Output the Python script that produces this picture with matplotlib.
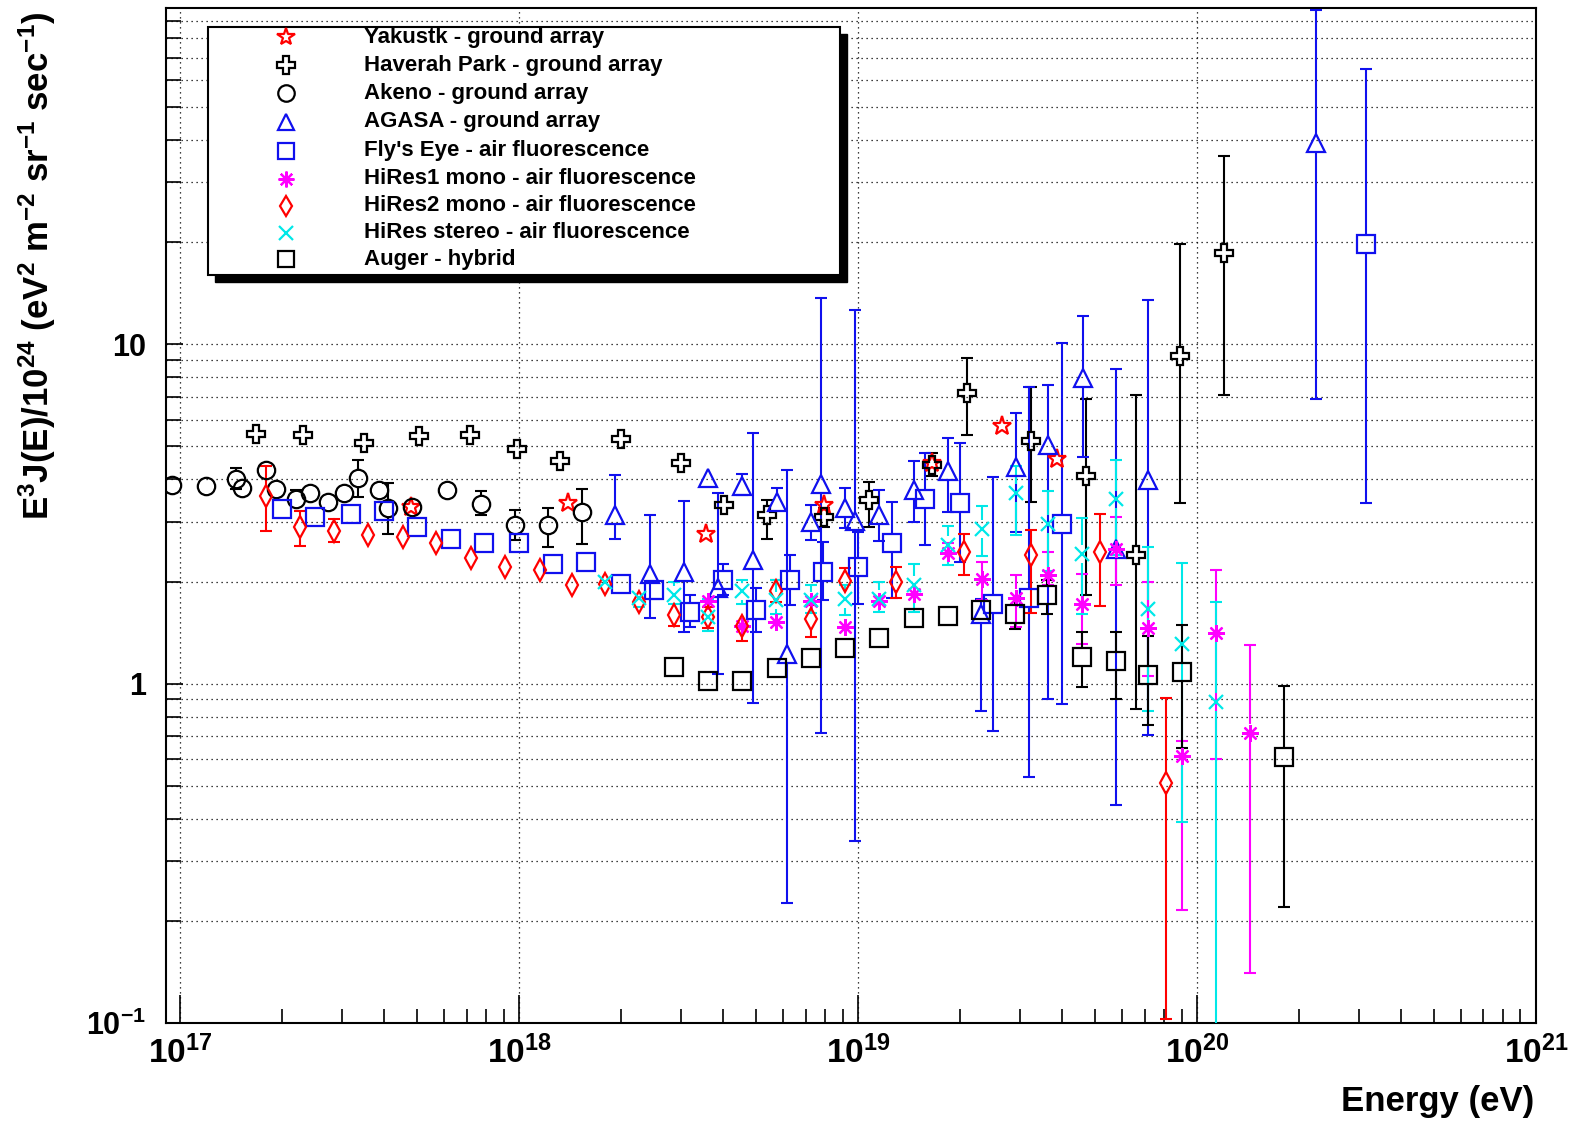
import numpy as np
import matplotlib
matplotlib.use("Agg")
import matplotlib.pyplot as plt
from matplotlib.ticker import FixedLocator, FixedFormatter, NullFormatter
from matplotlib.patches import Rectangle
from matplotlib.lines import Line2D

plt.rcParams['font.family'] = ['Liberation Sans', 'DejaVu Sans']
plt.rcParams['font.weight'] = 'bold'
plt.rcParams['mathtext.fontset'] = 'custom'
plt.rcParams['mathtext.rm'] = 'Liberation Sans:bold'
plt.rcParams['mathtext.it'] = 'Liberation Sans:bold'
plt.rcParams['mathtext.bf'] = 'Liberation Sans:bold'
plt.rcParams['mathtext.default'] = 'rm'

# ---------------- data (E in eV, flux E^3 J(E)/1e24, lower / upper error bounds) ----------------
yak_E  = [4.80e17, 1.39e18, 3.56e18, 7.96e18, 1.65e19, 2.66e19, 3.85e19]
yak_v  = [3.32, 3.40, 2.77, 3.36, 4.47, 5.73, 4.60]
yak_lo = [3.25, 3.32, 2.70, 3.28, 4.35, 5.55, 4.45]
yak_hi = [3.40, 3.48, 2.84, 3.45, 4.60, 5.90, 4.75]

hp_E  = [1.67e17, 2.30e17, 3.48e17, 5.07e17, 7.18e17, 9.86e17, 1.32e18, 2.00e18, 3.01e18, 4.03e18,
         5.37e18, 7.96e18, 1.08e19, 1.65e19, 2.09e19, 3.23e19, 4.70e19, 6.61e19, 8.93e19, 1.20e20]
hp_v  = [5.43, 5.42, 5.12, 5.38, 5.42, 4.91, 4.54, 5.26, 4.46, 3.36,
         3.14, 3.10, 3.48, 4.42, 7.20, 5.18, 4.08, 2.39, 9.27, 18.6]
hp_lo = [5.30, 5.30, 5.00, 5.25, 5.28, 4.75, 4.40, 5.10, 4.30, 3.20,
         2.67, 2.90, 2.90, 4.10, 5.39, 3.44, 1.83, 0.84, 3.41, 7.10]
hp_hi = [5.56, 5.55, 5.25, 5.50, 5.56, 5.10, 4.70, 5.40, 4.60, 3.55,
         3.48, 3.30, 3.94, 4.78, 9.11, 7.49, 6.90, 7.10, 19.7, 35.9]

ak_E  = [9.44e16, 1.19e17, 1.46e17, 1.52e17, 1.79e17, 1.92e17, 2.20e17, 2.42e17, 2.73e17, 3.04e17,
         3.34e17, 3.86e17, 4.10e17, 4.82e17, 6.14e17, 7.71e17, 9.70e17, 1.22e18, 1.53e18]
ak_v  = [3.85, 3.82, 4.01, 3.78, 4.25, 3.74, 3.49, 3.65, 3.43, 3.65,
         4.05, 3.72, 3.30, 3.31, 3.72, 3.39, 2.94, 2.94, 3.21]
ak_lo = [3.72, 3.70, 3.75, 3.65, 4.02, 3.62, 3.30, 3.52, 3.30, 3.52,
         3.56, 3.58, 2.77, 3.20, 3.60, 3.14, 2.65, 2.52, 2.58]
ak_hi = [3.98, 3.95, 4.33, 3.90, 4.49, 3.86, 3.73, 3.78, 3.56, 3.78,
         4.56, 3.86, 3.90, 3.42, 3.85, 3.70, 3.25, 3.30, 3.74]

ag_E  = [1.92e18, 2.43e18, 3.06e18, 3.61e18, 3.87e18, 4.56e18, 4.89e18, 5.77e18, 6.17e18, 7.24e18,
         7.78e18, 9.14e18, 9.82e18, 1.15e19, 1.46e19, 1.84e19, 2.30e19, 2.93e19, 3.63e19, 4.61e19,
         5.78e19, 7.18e19, 2.25e20]
ag_v  = [3.14, 2.11, 2.13, 4.03, 1.92, 3.83, 2.31, 3.44, 1.22, 3.00,
         3.87, 3.30, 3.01, 3.14, 3.72, 4.22, 1.60, 4.36, 5.04, 7.97,
         2.50, 3.99, 39.3]
ag_lo = [2.67, 1.56, 1.42, 3.85, 1.07, 3.60, 0.878, 3.25, 0.226, 2.65,
         0.716, 2.87, 0.343, 2.63, 3.00, 3.21, 0.83, 2.80, 0.90, 4.67,
         0.44, 0.706, 6.9]
ag_hi = [4.12, 3.15, 3.46, 4.20, 3.64, 4.14, 5.49, 3.76, 4.25, 3.37,
         13.7, 3.78, 12.6, 3.73, 4.54, 5.29, 1.78, 6.28, 7.59, 12.1,
         8.47, 13.5, 97.0]

fe_E  = [2.0e17, 2.5e17, 3.2e17, 4.0e17, 5.0e17, 6.3e17, 7.9e17, 1.0e18, 1.26e18, 1.58e18,
         2.0e18, 2.5e18, 3.2e18, 4.0e18, 5.0e18, 6.3e18, 7.9e18, 1.0e19, 1.26e19, 1.58e19,
         2.0e19, 2.5e19, 3.2e19, 4.0e19, 3.15e20]
fe_v  = [3.27, 3.09, 3.17, 3.23, 2.89, 2.67, 2.59, 2.59, 2.26, 2.29,
         1.97, 1.89, 1.63, 2.02, 1.65, 2.02, 2.13, 2.21, 2.59, 3.49,
         3.40, 1.72, 1.79, 2.96, 19.7]
fe_lo = [3.17, 3.00, 3.08, 3.13, 2.80, 2.60, 2.52, 2.52, 2.20, 2.22,
         1.90, 1.78, 1.47, 1.82, 1.42, 1.70, 1.76, 1.72, 1.79, 2.56,
         2.28, 0.726, 0.53, 0.87, 3.41]
fe_hi = [3.37, 3.18, 3.26, 3.33, 2.98, 2.75, 2.66, 2.66, 2.33, 2.36,
         2.05, 2.00, 1.82, 2.25, 1.91, 2.39, 2.62, 2.80, 3.43, 4.78,
         5.11, 4.06, 7.50, 10.1, 65.0]

h1_E  = [3.61e18, 4.56e18, 5.73e18, 7.28e18, 9.14e18, 1.15e19, 1.46e19, 1.84e19, 2.32e19, 2.92e19,
         3.63e19, 4.59e19, 5.78e19, 7.18e19, 9.04e19, 1.14e20, 1.43e20]
h1_v  = [1.75, 1.48, 1.52, 1.75, 1.47, 1.75, 1.84, 2.43, 2.03, 1.79,
         2.09, 1.72, 2.49, 1.46, 0.613, 1.41, 0.716]
h1_lo = [1.68, 1.42, 1.45, 1.68, 1.40, 1.66, 1.74, 2.30, 1.77, 1.47,
         1.95, 1.31, 1.95, 1.05, 0.215, 0.60, 0.14]
h1_hi = [1.82, 1.55, 1.60, 1.82, 1.54, 1.84, 1.95, 2.60, 2.28, 2.09,
         2.45, 2.11, 3.10, 2.00, 0.68, 2.16, 1.30]

h2_E  = [1.79e17, 2.25e17, 2.84e17, 3.59e17, 4.54e17, 5.70e17, 7.19e17, 9.08e17, 1.15e18, 1.43e18,
         1.79e18, 2.26e18, 2.86e18, 3.61e18, 4.56e18, 5.73e18, 7.28e18, 9.14e18, 1.29e19, 2.05e19,
         3.23e19, 5.18e19, 8.11e19]
h2_v  = [3.57, 2.89, 2.81, 2.74, 2.71, 2.59, 2.34, 2.20, 2.17, 1.95,
         1.97, 1.74, 1.59, 1.57, 1.48, 1.88, 1.55, 2.01, 2.00, 2.44,
         2.39, 2.44, 0.511]
h2_lo = [2.81, 2.55, 2.62, 2.66, 2.63, 2.52, 2.28, 2.14, 2.11, 1.90,
         1.92, 1.66, 1.48, 1.46, 1.34, 1.74, 1.37, 1.90, 1.79, 2.09,
         1.62, 1.69, 0.103]
h2_hi = [4.37, 3.23, 3.06, 2.82, 2.79, 2.66, 2.40, 2.26, 2.23, 2.00,
         2.02, 1.82, 1.66, 1.68, 1.57, 2.02, 1.70, 2.19, 2.21, 2.77,
         2.84, 3.17, 0.909]

hs_E  = [1.79e18, 2.26e18, 2.86e18, 3.61e18, 4.56e18, 5.73e18, 7.28e18, 9.14e18, 1.15e19, 1.46e19,
         1.84e19, 2.32e19, 2.92e19, 3.63e19, 4.59e19, 5.78e19, 7.18e19, 9.04e19, 1.14e20]
hs_v  = [1.99, 1.79, 1.83, 1.57, 1.87, 1.76, 1.76, 1.78, 1.78, 1.95,
         2.56, 2.86, 3.64, 2.96, 2.41, 3.49, 1.66, 1.31, 0.882]
hs_lo = [1.92, 1.68, 1.72, 1.43, 1.72, 1.60, 1.62, 1.59, 1.63, 1.63,
         2.23, 2.38, 2.75, 2.15, 1.60, 2.40, 0.832, 0.391, 0.05]
hs_hi = [2.06, 1.89, 1.99, 1.78, 2.02, 2.02, 1.96, 1.95, 2.00, 2.25,
         2.92, 3.35, 4.39, 3.70, 3.08, 4.55, 2.53, 2.27, 1.74]

au_E  = [2.86e18, 3.61e18, 4.56e18, 5.75e18, 7.24e18, 9.14e18, 1.15e19, 1.46e19, 1.84e19, 2.30e19,
         2.91e19, 3.61e19, 4.57e19, 5.75e19, 7.18e19, 9.04e19, 1.80e20]
au_v  = [1.12, 1.02, 1.02, 1.11, 1.19, 1.27, 1.36, 1.56, 1.58, 1.65,
         1.60, 1.82, 1.20, 1.17, 1.06, 1.08, 0.61]
au_lo = [1.09, 0.99, 0.99, 1.08, 1.16, 1.23, 1.32, 1.52, 1.54, 1.60,
         1.45, 1.60, 0.98, 0.90, 0.756, 0.646, 0.22]
au_hi = [1.15, 1.05, 1.05, 1.14, 1.22, 1.31, 1.40, 1.60, 1.62, 1.70,
         1.78, 2.02, 1.42, 1.42, 1.38, 1.49, 0.986]

labels = ["Yakustk - ground array", "Haverah Park - ground array", "Akeno - ground array",
          "AGASA - ground array", "Fly's Eye - air fluorescence", "HiRes1 mono - air fluorescence",
          "HiRes2 mono - air fluorescence", "HiRes stereo - air fluorescence", "Auger - hybrid"]

x_major = [1e17, 1e18, 1e19, 1e20, 1e21]
x_major_labels = [r'$10^{17}$', r'$10^{18}$', r'$10^{19}$', r'$10^{20}$', r'$10^{21}$']
y_major = [0.1, 1, 10]
y_major_labels = [r'$10^{-1}$', '1', '10']

# ---------------- styling ----------------
BLUE = '#1010ee'
ASTER = (8, 2, 0)
styles = [
    dict(color='red', marker='*', ms=14),
    dict(color='black', marker='P', ms=13),
    dict(color='black', marker='o', ms=12.5),
    dict(color=BLUE, marker='^', ms=12.5),
    dict(color=BLUE, marker='s', ms=12.5),
    dict(color='#ff00ff', marker=ASTER, ms=12),
    dict(color='red', marker='d', ms=11),
    dict(color='#00e8e8', marker='x', ms=10),
    dict(color='black', marker='s', ms=12.5),
]
datasets = [
    (yak_E, yak_v, yak_lo, yak_hi),
    (hp_E, hp_v, hp_lo, hp_hi),
    (ak_E, ak_v, ak_lo, ak_hi),
    (ag_E, ag_v, ag_lo, ag_hi),
    (fe_E, fe_v, fe_lo, fe_hi),
    (h1_E, h1_v, h1_lo, h1_hi),
    (h2_E, h2_v, h2_lo, h2_hi),
    (hs_E, hs_v, hs_lo, hs_hi),
    (au_E, au_v, au_lo, au_hi),
]

W, H = 1574, 1121
fig = plt.figure(figsize=(W / 100, H / 100), dpi=100)
L, R, T, B = 165.6, 1536, 8, 1023
ax = fig.add_axes([L / W, 1 - B / H, (R - L) / W, (B - T) / H])
ax.set_xscale('log')
ax.set_yscale('log')
ax.set_xlim(9.06e16, 1e21)
ax.set_ylim(0.1, 98.0)

LW = 1.5
GAP = 0.026  # half marker height in decades (bars stop at marker edge)
for (E, v, lo, hi), st in zip(datasets, styles):
    E = np.asarray(E); v = np.asarray(v); lo = np.asarray(lo); hi = np.asarray(hi)
    up0 = v * 10 ** GAP
    dn0 = v / 10 ** GAP
    mu = hi > up0
    md = lo < dn0
    c = st['color']
    ax.vlines(E[mu], up0[mu], hi[mu], colors=c, lw=LW, zorder=3)
    ax.vlines(E[md], lo[md], dn0[md], colors=c, lw=LW, zorder=3)
    ax.plot(E[mu], hi[mu], ls='none', marker='_', ms=9, mew=LW, color=c, zorder=3)
    ax.plot(E[md], lo[md], ls='none', marker='_', ms=9, mew=LW, color=c, zorder=3)
    ax.plot(E, v, ls='none', marker=st['marker'], ms=st['ms'], mfc='none', mec=c,
            mew=1.6, zorder=4)

# axes, ticks and grid
ax.xaxis.set_major_locator(FixedLocator(x_major))
ax.xaxis.set_major_formatter(FixedFormatter(x_major_labels))
ax.xaxis.set_minor_locator(FixedLocator([m * 10.0 ** d for d in range(16, 21) for m in range(2, 10)]))
ax.xaxis.set_minor_formatter(NullFormatter())
ax.yaxis.set_major_locator(FixedLocator(y_major))
ax.yaxis.set_major_formatter(FixedFormatter(y_major_labels))
ax.yaxis.set_minor_locator(FixedLocator([m * 10.0 ** d for d in range(-1, 2) for m in range(2, 10)]))
ax.yaxis.set_minor_formatter(NullFormatter())

ax.tick_params(axis='x', which='major', direction='in', length=20, width=1.2, pad=9, labelsize=24)
ax.tick_params(axis='x', which='minor', direction='in', length=10, width=1.2)
ax.tick_params(axis='y', which='major', direction='in', length=12, width=1.2, pad=14, labelsize=22)
ax.tick_params(axis='y', which='minor', direction='in', length=11, width=1.2)
for lab in ax.get_xticklabels() + ax.get_yticklabels():
    lab.set_fontweight('bold')

grid_kw = dict(color='black', lw=0.9, ls=(0, (1, 3)))
ax.grid(True, which='major', axis='both', **grid_kw)
ax.grid(True, which='minor', axis='y', **grid_kw)
ax.set_axisbelow(True)
for s in ax.spines.values():
    s.set_linewidth(1.5)

# axis titles
fig.text(1534 / W, 1 - 1101 / H, 'Energy (eV)', ha='right', va='center', fontsize=25, fontweight='bold')
fig.text(37 / W, 1 - 12 / H,
         r'E$^{3}$J(E)/10$^{24}$ (eV$^{2}$ m$^{-2}$ sr$^{-1}$ sec$^{-1}$)',
         rotation=90, ha='center', va='top', fontsize=25, fontweight='bold')

# legend box with shadow
lx0, ly0, lx1, ly1 = 208, 27, 840, 275
sh = 7
fig.add_artist(Rectangle(((lx0 + sh) / W, 1 - (ly1 + sh) / H), (lx1 - lx0) / W, (ly1 - ly0) / H,
                         transform=fig.transFigure, facecolor='black', edgecolor='black', zorder=10))
fig.add_artist(Rectangle((lx0 / W, 1 - ly1 / H), (lx1 - lx0) / W, (ly1 - ly0) / H,
                         transform=fig.transFigure, facecolor='white', edgecolor='black', lw=1.5, zorder=11))
rows = [37, 65, 93, 122, 151, 179, 206, 233, 259]
for yrow, lab, st in zip(rows, labels, styles):
    fig.add_artist(Line2D([286 / W], [1 - yrow / H], transform=fig.transFigure, ls='none',
                          marker=st['marker'], ms=st['ms'] * 0.95, mfc='none', mec=st['color'],
                          mew=1.6, zorder=12))
    fig.text(364 / W, 1 - yrow / H, lab, ha='left', va='center', fontsize=16,
             fontweight='bold', zorder=12)

fig.savefig('out.png', dpi=100)
